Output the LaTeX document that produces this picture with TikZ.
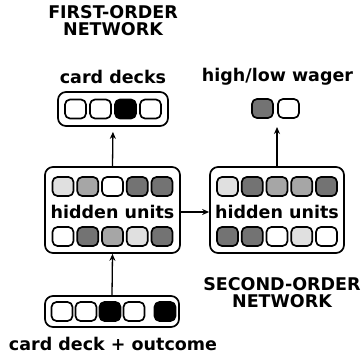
\documentclass[tikz,border=0pt]{standalone}
\usepackage{fontspec}
\setmainfont{DejaVu Sans}
\usetikzlibrary{arrows.meta}
\tikzset{
  unit/.style={draw,line width=1.7pt,rounded corners=5pt,minimum width=21pt,minimum height=19pt,inner sep=0pt},
  layer/.style={draw,line width=1.7pt,rounded corners=8pt,inner sep=0pt},
  lbl/.style={font=\bfseries\fontsize{17.5}{17}\selectfont,align=center},
  conn/.style={line width=1.3pt,-{Stealth[length=7pt,width=6pt]}}
}
\colorlet{dk}{black!55}
\colorlet{md}{black!35}
\colorlet{lt}{black!12}
\begin{document}
\begin{tikzpicture}[x=1pt,y=-1pt,line cap=round,line join=round]
\useasboundingbox (0,0) rectangle (362,354);
% first-order network
\node[lbl] (fotitle) at (113,21) {FIRST-ORDER\\NETWORK};
\node[lbl] (decklbl) at (113,77) {card decks};
\node[layer,minimum width=110pt,minimum height=34pt] (decks) at (113,109) {};
\foreach \c [count=\i] in {white,white,black,white}
  \node[unit,fill=\c] (d\i) at ({113+25*(\i-2.5)},109) {};
\node[layer,minimum width=135pt,minimum height=86pt] (hid1) at (112.5,210) {};
\foreach \c [count=\i] in {lt,md,white,dk,dk}
  \node[unit,fill=\c] (ha\i) at ({112.5+24.75*(\i-3)},186.5) {};
\foreach \c [count=\i] in {white,dk,md,lt,dk}
  \node[unit,fill=\c] (hb\i) at ({112.5+24.75*(\i-3)},236.5) {};
\node[lbl] (hid1txt) at (112.5,212) {hidden units};
\node[layer,minimum width=134pt,minimum height=31pt] (inp) at (112,311.5) {};
\foreach \c/\x [count=\i] in {white/62,white/86,black/110,white/134,black/165}
  \node[unit,fill=\c] (in\i) at (\x,311.5) {};
\node[lbl] (inplbl) at (113,344) {card deck + outcome};
% second-order network
\node[lbl] (wagerlbl) at (277.5,77) {high/low wager};
\node[unit,fill=dk] (w1) at (262.5,108.5) {};
\node[unit,fill=white] (w2) at (288.5,108.5) {};
\coordinate (wtip) at (277,127);
\node[layer,minimum width=134pt,minimum height=86pt] (hid2) at (277,210) {};
\foreach \c [count=\i] in {lt,dk,md,md,dk}
  \node[unit,fill=\c] (sa\i) at ({277+24.75*(\i-3)},186.5) {};
\foreach \c [count=\i] in {dk,dk,white,lt,white}
  \node[unit,fill=\c] (sb\i) at ({277+24.75*(\i-3)},236.5) {};
\node[lbl] (hid2txt) at (277,212) {hidden units};
\node[lbl] (sotitle) at (282,293) {SECOND-ORDER\\NETWORK};
% connections
\draw[conn] (inp.north) -- (hid1.south);
\draw[conn,shorten >=5pt] (hid1.north) -- (decks.south);
\draw[conn] (hid1.east |- hid1txt) -- (hid2.west |- hid1txt);
\draw[conn] (hid2.north) -- (wtip);
\end{tikzpicture}
\end{document}
